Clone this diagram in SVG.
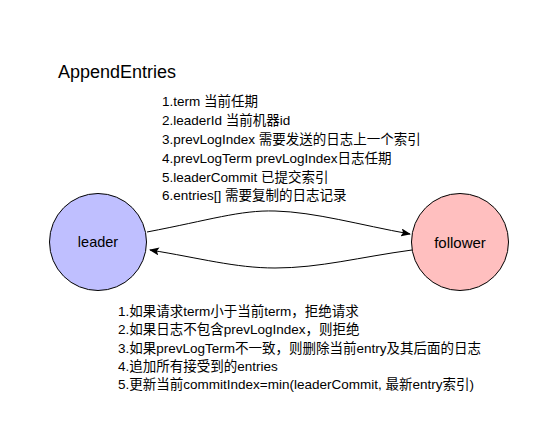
<svg xmlns="http://www.w3.org/2000/svg" width="559" height="446" viewBox="0 0 559 446">
<defs>
<style>
text{font-family:"Liberation Sans","Noto Sans CJK SC",sans-serif;fill:#000}
.t{font-size:13.5px}
.edge{fill:none;stroke:#000;stroke-width:1}
</style>
<marker id="ah" markerWidth="10" markerHeight="8" refX="9" refY="4" orient="auto" markerUnits="userSpaceOnUse">
<path d="M0,0 L10,4 L0,8 L2,4 Z" fill="#000"/>
</marker>
</defs>
<rect width="559" height="446" fill="#fff"/>
<text x="58" y="78" font-size="18">AppendEntries</text>
<g id="params" class="t">
<text x="162" y="106" class="t">1.term 当前任期</text>
<text x="162" y="125" class="t">2.leaderId 当前机器id</text>
<text x="162" y="144" class="t">3.prevLogIndex 需要发送的日志上一个索引</text>
<text x="162" y="163" class="t">4.prevLogTerm prevLogIndex日志任期</text>
<text x="162" y="182" class="t">5.leaderCommit 已提交索引</text>
<text x="162" y="200" class="t">6.entries[] 需要复制的日志记录</text>
</g>
<g id="connectors">
<path class="edge" d="M147,232 C210,220 240,210 275,211 C315,212 360,225 410,234" marker-end="url(#ah)"/>
<path class="edge" d="M412,250 C360,257 320,268 275,268 C235,268 200,258 150,250" marker-end="url(#ah)"/>
</g>
<g id="leader">
<circle cx="98" cy="242" r="48.5" fill="#bfbfff" stroke="#000" stroke-width="1"/>
<text x="98" y="247" font-size="14.5" text-anchor="middle">leader</text>
</g>
<g id="follower">
<circle cx="460" cy="242" r="48.5" fill="#ffbfbf" stroke="#000" stroke-width="1"/>
<text x="460" y="248" font-size="15" text-anchor="middle">follower</text>
</g>
<g id="rules">
<text x="118" y="316" class="t">1.如果请求term小于当前term，拒绝请求</text>
<text x="118" y="334" class="t">2.如果日志不包含prevLogIndex，则拒绝</text>
<text x="118" y="353" class="t">3.如果prevLogTerm不一致，则删除当前entry及其后面的日志</text>
<text x="118" y="371" class="t">4.追加所有接受到的entries</text>
<text x="118" y="389" class="t">5.更新当前commitIndex=min(leaderCommit, 最新entry索引)</text>
</g>
</svg>
